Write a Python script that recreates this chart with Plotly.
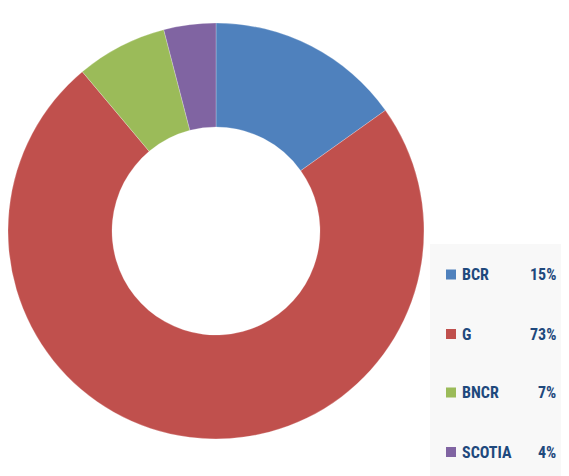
import plotly.graph_objects as go

labels = ["BCR", "G", "BNCR", "SCOTIA"]
values = [15, 73, 7, 4]
colors = ["#4F81BD", "#C0504D", "#9BBB59", "#8064A2"]

# page body has an 8px margin: figure is drawn at offset (8, 8)
OFF = 8
W, H = 569 - OFF, 476 - OFF
d = 416
cx, cy = OFF + d / 2, 231  # screen coords of pie centre


def px(x):
    return (x - OFF) / W


def py(y):
    return (H - (y - OFF)) / H


fig = go.Figure()
fig.add_trace(go.Pie(
    labels=labels, values=values, hole=0.5, sort=False,
    direction="clockwise", rotation=0,
    marker=dict(colors=colors, line=dict(color="rgba(255,255,255,0.4)", width=0.6)),
    textinfo="none", hoverinfo="label+value", showlegend=False,
    domain=dict(x=[px(cx - d / 2), px(cx + d / 2)],
                y=[py(cy + d / 2), py(cy - d / 2)]),
))

shapes = [dict(type="rect", xref="paper", yref="paper",
               x0=px(430), x1=1, y0=0, y1=py(244),
               fillcolor="#F8F8F8", line=dict(width=0), layer="below")]
annotations = []
row_y = [274.5, 334, 392.5, 452]
font = dict(family="Liberation Sans Narrow, Roboto Condensed, Roboto, Arial, sans-serif",
            size=16, color="#1F497D")
for lab, val, col, ry in zip(labels, values, colors, row_y):
    shapes.append(dict(type="rect", xref="paper", yref="paper",
                       x0=px(446), x1=px(456), y0=py(ry + 5), y1=py(ry - 5),
                       fillcolor=col, line=dict(width=0)))
    annotations.append(dict(xref="paper", yref="paper", x=px(459.5), y=py(ry),
                            text="<b>%s</b>" % lab, showarrow=False,
                            xanchor="left", yanchor="middle", font=font))
    annotations.append(dict(xref="paper", yref="paper", x=px(558), y=py(ry),
                            text="<b>%d%%</b>" % val, showarrow=False,
                            xanchor="right", yanchor="middle", font=font))

fig.update_layout(
    width=W, height=H, margin=dict(l=0, r=0, t=0, b=0),
    paper_bgcolor="white", plot_bgcolor="white",
    shapes=shapes, annotations=annotations, showlegend=False,
)
fig.write_html("out.html")
